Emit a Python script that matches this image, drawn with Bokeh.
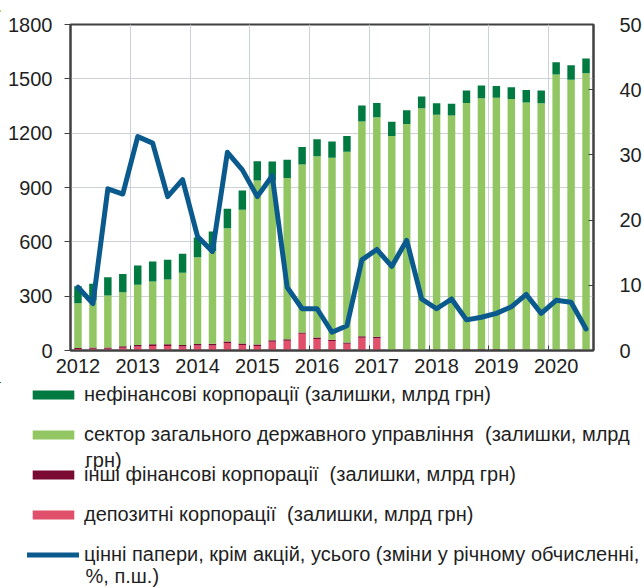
from bokeh.plotting import figure
from bokeh.models import (ColumnDataSource, Range1d, LinearAxis, FixedTicker,
                          Legend, LegendItem, Label, Div)
from bokeh.layouts import column
from bokeh.embed import file_html
from bokeh.resources import INLINE

# ---------------- data (quarterly, 2012 Q1 .. 2020 Q3) ----------------
quarters = [f"{y} Q{q}" for y in range(2012, 2021) for q in range(1, 5)][:35]
year_labels = ["2012", "2013", "2014", "2015", "2016", "2017", "2018", "2019", "2020"]

deposit_corp = [8, 10, 10, 15, 22, 25, 25, 22, 27, 28, 42, 30, 25, 48, 54, 92, 64, 52,
                37, 70, 68, 1, 1, 1, 1, 2, 2, 2, 2, 1, 1, 1, 1, 1, 1]
other_fin_corp = [6, 7, 7, 8, 9, 9, 9, 8, 9, 9, 8, 9, 8, 8, 8, 8, 8, 7,
                  7, 8, 8, 3, 3, 3, 4, 4, 5, 5, 5, 4, 4, 3, 3, 3, 3]
general_gov = [247, 260, 287, 299, 332, 347, 358, 399, 479, 513, 625, 738, 906, 881, 891,
               927, 1001, 1005, 1053, 1186, 1212, 1181, 1247, 1334, 1296, 1291, 1360, 1386,
               1388, 1383, 1364, 1361, 1520, 1491, 1527]
nonfin_corp = [94, 92, 101, 101, 106, 110, 109, 105, 109, 107, 107, 106, 106, 106, 100, 96,
               94, 90, 88, 89, 79, 78, 76, 64, 64, 65, 68, 70, 66, 66, 70, 70, 68, 80, 81]
securities_yoy = [9.7, 7.2, 24.8, 24.0, 32.8, 31.8, 23.6, 26.2, 17.5, 15.2, 30.4, 27.7, 23.6,
                  26.8, 9.7, 6.4, 6.4, 2.8, 3.8, 13.9, 15.5, 12.9, 16.9, 7.9, 6.4, 7.9, 4.7,
                  5.1, 5.7, 6.7, 8.6, 5.7, 7.7, 7.4, 3.3]

legend_labels = [
    "нефінансові корпорації (залишки, млрд грн)",
    "сектор загального державного управління  (залишки, млрд",
    "інші фінансові корпорації  (залишки, млрд грн)",
    "депозитні корпорації  (залишки, млрд грн)",
    "цінні папери, крім акцій, усього (зміни у річному обчисленні,",
]
wrap_lines = ["грн)", "%, п.ш.)"]

C_NONFIN = "#007A40"
C_GOV = "#92C662"
C_OTHER = "#7A0A32"
C_DEP = "#E0506A"
C_LINE = "#0B5A8E"
FONT = "Liberation Sans"
TXT = "#1f1f1f"
FS = "20px"

x = list(range(len(quarters)))
src = ColumnDataSource(dict(x=x, dep=deposit_corp, oth=other_fin_corp,
                            gov=general_gov, nf=nonfin_corp, pct=securities_yoy))


def draw_series(fig):
    bars = fig.vbar_stack(["dep", "oth", "gov", "nf"], x="x", width=0.5, source=src,
                          color=[C_DEP, C_OTHER, C_GOV, C_NONFIN], line_color=None)
    ln = fig.line("x", "pct", source=src, y_range_name="pct", line_color=C_LINE,
                  line_width=5, line_join="round", line_cap="round")
    return bars, ln


def no_frame_align(fig):
    if "frame_align" in fig.properties():
        fig.frame_align = False


# ---------------- main chart ----------------
p = figure(width=644, height=376, output_backend="svg", toolbar_location=None,
           x_range=Range1d(-0.5, len(quarters) - 0.5), y_range=Range1d(0, 1800),
           min_border_left=70, min_border_right=36, min_border_top=18,
           min_border_bottom=32, background_fill_color="white",
           border_fill_color="white")
p.extra_y_ranges = {"pct": Range1d(0, 50)}
no_frame_align(p)
draw_series(p)

p.yaxis.ticker = FixedTicker(ticks=[0, 300, 600, 900, 1200, 1500, 1800])
ax_r = LinearAxis(y_range_name="pct", ticker=FixedTicker(ticks=[0, 10, 20, 30, 40, 50]))
p.add_layout(ax_r, "right")
year_pos = [4 * i for i in range(len(year_labels))]
p.xaxis.ticker = FixedTicker(ticks=year_pos,
                             minor_ticks=[4 * i - 0.5 for i in range(1, len(year_labels))])
p.xaxis.major_label_overrides = {pos: lab for pos, lab in zip(year_pos, year_labels)}

for ax in [p.xaxis[0], p.yaxis[0], ax_r]:
    ax.axis_line_color = "#404040"
    ax.axis_line_width = 2
    ax.major_label_text_font = FONT
    ax.major_label_text_font_size = FS
    ax.major_label_text_color = TXT
    ax.minor_tick_line_color = None
    ax.major_tick_line_color = "#404040"

p.xaxis.major_tick_in = 0
p.xaxis.major_tick_out = 0
p.xaxis.minor_tick_line_color = "#404040"
p.xaxis.minor_tick_in = 5
p.xaxis.minor_tick_out = 0
p.xaxis.major_label_standoff = 8
p.yaxis[0].major_tick_in = 0
p.yaxis[0].major_tick_out = 6
p.yaxis[0].major_label_standoff = 12
ax_r.major_tick_in = 5
ax_r.major_tick_out = 0
ax_r.major_label_standoff = 26

p.xgrid.ticker = FixedTicker(ticks=[4 * i - 0.5 for i in range(1, len(year_labels))])
p.ygrid.ticker = FixedTicker(ticks=[300, 600, 900, 1200, 1500])
p.xgrid.grid_line_color = "#CDD2D7"
p.ygrid.grid_line_color = "#CDD2D7"
p.outline_line_color = "#404040"
p.outline_line_width = 2

# ---------------- legend panel (series drawn out of view, legend only) ----------------
lf = figure(width=644, height=205, output_backend="svg", toolbar_location=None,
            x_range=Range1d(1000, 1001), y_range=Range1d(-2, -1),
            x_axis_location=None, y_axis_location=None, min_border=0,
            outline_line_color=None, background_fill_color="white",
            border_fill_color="white")
lf.extra_y_ranges = {"pct": Range1d(-2, -1)}
lf.grid.visible = False
no_frame_align(lf)
lbars, lline = draw_series(lf)

items = [LegendItem(label=lab, renderers=[r]) for lab, r in
         zip(legend_labels, [lbars[3], lbars[2], lbars[1], lbars[0], lline])]
legend = Legend(items=items, location=(27, 21), orientation="vertical",
                glyph_width=52, glyph_height=11, label_height=20, spacing=17,
                label_standoff=5, padding=0, margin=0,
                label_text_font=FONT, label_text_font_size=FS,
                label_text_color=TXT, background_fill_alpha=0,
                border_line_color=None)
lf.add_layout(legend, "center")

for txt, yy in zip(wrap_lines, [128, 12]):
    lf.add_layout(Label(x=85, y=yy, x_units="screen", y_units="screen", text=txt,
                        text_font=FONT, text_font_size=FS, text_color=TXT,
                        text_baseline="middle"))

top_rule = Div(text='<div style="margin-top:3px;height:2px;width:644px;background:#8DC63F"></div>',
               width=644, height=6, margin=(0, 0, 0, 0))

layout = column(top_rule, p, lf, spacing=0)
open("out.html", "w").write(file_html(layout, INLINE))
